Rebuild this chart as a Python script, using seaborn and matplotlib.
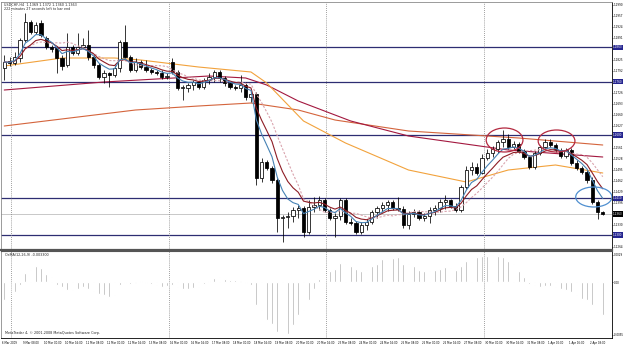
import numpy as np
import pandas as pd
import seaborn as sns
import matplotlib.pyplot as plt
from matplotlib.patches import Ellipse

sns.set_theme(style="white")
plt.rcParams["font.family"] = ["DejaVu Sans"]

symbol = "USDCHF,H4"

# H4 bars, 6 Mar 2009 16:00 .. 2 Apr 2009 16:00
open_ = [1.1801, 1.1822, 1.1816, 1.1831, 1.1885, 1.1939, 1.1909, 1.1936, 1.1891, 1.1864,
         1.1861, 1.1831, 1.1810, 1.1864, 1.1846, 1.1864, 1.1870, 1.1834, 1.1810, 1.1774,
         1.1786, 1.1780, 1.1801, 1.1879, 1.1834, 1.1795, 1.1819, 1.1804, 1.1795, 1.1789,
         1.1786, 1.1774, 1.1819, 1.1789, 1.1741, 1.1741, 1.1750, 1.1759, 1.1744, 1.1765,
         1.1774, 1.1789, 1.1771, 1.1756, 1.1744, 1.1741, 1.1750, 1.1714, 1.1723, 1.1471,
         1.1519, 1.1501, 1.1465, 1.1351, 1.1354, 1.1357, 1.1375, 1.1381, 1.1309, 1.1384,
         1.1390, 1.1405, 1.1375, 1.1351, 1.1357, 1.1405, 1.1339, 1.1336, 1.1309, 1.1330,
         1.1339, 1.1369, 1.1381, 1.1390, 1.1399, 1.1381, 1.1378, 1.1330, 1.1363, 1.1369,
         1.1351, 1.1357, 1.1375, 1.1381, 1.1399, 1.1405, 1.1387, 1.1375, 1.1444, 1.1495,
         1.1504, 1.1486, 1.1531, 1.1546, 1.1558, 1.1579, 1.1588, 1.1564, 1.1573, 1.1552,
         1.1534, 1.1504, 1.1546, 1.1564, 1.1579, 1.1570, 1.1555, 1.1537, 1.1555, 1.1516,
         1.1501, 1.1489, 1.1465, 1.1399, 1.1369]
high = [1.1840, 1.1834, 1.1849, 1.1891, 1.1966, 1.1945, 1.1939, 1.1945, 1.1897, 1.1870,
        1.1867, 1.1840, 1.1906, 1.1870, 1.1906, 1.1891, 1.1915, 1.1840, 1.1816, 1.1795,
        1.1789, 1.1810, 1.1885, 1.1930, 1.1840, 1.1831, 1.1825, 1.1825, 1.1801, 1.1795,
        1.1795, 1.1786, 1.1831, 1.1795, 1.1750, 1.1756, 1.1765, 1.1762, 1.1771, 1.1786,
        1.1795, 1.1795, 1.1777, 1.1759, 1.1750, 1.1780, 1.1759, 1.1732, 1.1729, 1.1531,
        1.1525, 1.1507, 1.1471, 1.1360, 1.1369, 1.1384, 1.1390, 1.1387, 1.1405, 1.1414,
        1.1417, 1.1411, 1.1381, 1.1366, 1.1411, 1.1411, 1.1351, 1.1342, 1.1339, 1.1348,
        1.1375, 1.1387, 1.1399, 1.1405, 1.1405, 1.1414, 1.1387, 1.1372, 1.1378, 1.1375,
        1.1366, 1.1384, 1.1390, 1.1408, 1.1420, 1.1408, 1.1396, 1.1450, 1.1507, 1.1519,
        1.1516, 1.1543, 1.1558, 1.1567, 1.1585, 1.1615, 1.1603, 1.1582, 1.1579, 1.1558,
        1.1540, 1.1552, 1.1570, 1.1588, 1.1588, 1.1576, 1.1561, 1.1561, 1.1561, 1.1525,
        1.1507, 1.1495, 1.1474, 1.1405, 1.1372]
low = [1.1765, 1.1807, 1.1810, 1.1819, 1.1879, 1.1903, 1.1903, 1.1894, 1.1858, 1.1849,
       1.1786, 1.1795, 1.1804, 1.1840, 1.1840, 1.1861, 1.1825, 1.1801, 1.1768, 1.1756,
       1.1744, 1.1774, 1.1789, 1.1831, 1.1789, 1.1789, 1.1798, 1.1789, 1.1783, 1.1780,
       1.1768, 1.1768, 1.1783, 1.1735, 1.1705, 1.1729, 1.1735, 1.1738, 1.1738, 1.1753,
       1.1759, 1.1759, 1.1747, 1.1738, 1.1735, 1.1729, 1.1705, 1.1699, 1.1450, 1.1459,
       1.1495, 1.1456, 1.1309, 1.1279, 1.1321, 1.1339, 1.1351, 1.1294, 1.1303, 1.1369,
       1.1375, 1.1369, 1.1345, 1.1294, 1.1345, 1.1333, 1.1330, 1.1303, 1.1303, 1.1315,
       1.1333, 1.1351, 1.1369, 1.1372, 1.1375, 1.1372, 1.1321, 1.1318, 1.1354, 1.1345,
       1.1342, 1.1336, 1.1360, 1.1369, 1.1378, 1.1381, 1.1369, 1.1369, 1.1438, 1.1480,
       1.1480, 1.1483, 1.1525, 1.1534, 1.1546, 1.1564, 1.1558, 1.1558, 1.1546, 1.1528,
       1.1498, 1.1498, 1.1540, 1.1558, 1.1564, 1.1549, 1.1531, 1.1531, 1.1510, 1.1495,
       1.1483, 1.1456, 1.1393, 1.1348, 1.1360]
close = [1.1819, 1.1816, 1.1834, 1.1885, 1.1939, 1.1909, 1.1930, 1.1900, 1.1864, 1.1858,
         1.1831, 1.1807, 1.1864, 1.1846, 1.1864, 1.1870, 1.1834, 1.1810, 1.1774, 1.1786,
         1.1780, 1.1801, 1.1879, 1.1834, 1.1795, 1.1819, 1.1804, 1.1795, 1.1789, 1.1786,
         1.1774, 1.1777, 1.1789, 1.1741, 1.1744, 1.1750, 1.1759, 1.1744, 1.1765, 1.1774,
         1.1789, 1.1771, 1.1756, 1.1744, 1.1741, 1.1750, 1.1714, 1.1723, 1.1471, 1.1519,
         1.1501, 1.1465, 1.1351, 1.1354, 1.1357, 1.1375, 1.1381, 1.1309, 1.1384, 1.1390,
         1.1405, 1.1375, 1.1351, 1.1357, 1.1405, 1.1339, 1.1336, 1.1309, 1.1330, 1.1339,
         1.1369, 1.1381, 1.1390, 1.1399, 1.1381, 1.1378, 1.1330, 1.1363, 1.1369, 1.1351,
         1.1357, 1.1375, 1.1381, 1.1399, 1.1405, 1.1387, 1.1375, 1.1444, 1.1495, 1.1504,
         1.1486, 1.1531, 1.1546, 1.1558, 1.1579, 1.1588, 1.1564, 1.1573, 1.1552, 1.1534,
         1.1504, 1.1546, 1.1564, 1.1579, 1.1570, 1.1555, 1.1537, 1.1555, 1.1516, 1.1501,
         1.1489, 1.1465, 1.1399, 1.1369, 1.1363]

# OsMA(12,26,9) histogram, one value per bar
osma = [-0.0018, -0.0015, -0.0010, -0.0003, 0.0009, 0.0012, 0.0016, 0.0014, 0.0008, 0.0005,
        -0.0003, -0.0005, -0.0008, -0.0008, -0.0007, -0.0005, -0.0007, -0.0009, -0.0012, -0.0013,
        -0.0015, -0.0013, -0.0003, -0.0001, -0.0002, -0.0001, 0.0001, -0.0001, -0.0002, -0.0003,
        -0.0005, -0.0004, -0.0003, -0.0005, -0.0007, -0.0007, -0.0006, -0.0005, -0.0002, 0.0001,
        0.0004, 0.0005, 0.0003, 0.0002, 0.0002, 0.0001, -0.0001, -0.0003, -0.0023, -0.0028,
        -0.0038, -0.0042, -0.0050, -0.0053, -0.0052, -0.0043, -0.0033, -0.0028, -0.0018, -0.0007,
        0.0003, 0.0008, 0.0011, 0.0013, 0.0019, 0.0018, 0.0016, 0.0013, 0.0011, 0.0012,
        0.0016, 0.0018, 0.0023, 0.0024, 0.0024, 0.0025, 0.0018, 0.0018, 0.0016, 0.0012,
        0.0011, 0.0011, 0.0012, 0.0013, 0.0015, 0.0014, 0.0012, 0.0016, 0.0021, 0.0024,
        0.0025, 0.0026, 0.0026, 0.0027, 0.0026, 0.0025, 0.0021, 0.0018, 0.0011, 0.0005,
        -0.0002, -0.0003, -0.0005, -0.0004, -0.0004, -0.0005, -0.0007, -0.0008, -0.0010, -0.0013,
        -0.0017, -0.0018, -0.0023, -0.0030, -0.0033]

# slow moving averages (bar index, price)
orange_idx = [0, 11, 21, 26, 37, 47, 50, 57, 65, 77, 88, 96, 105, 114]
orange_val = [1.1807, 1.1831, 1.1831, 1.1825, 1.1804, 1.1789, 1.1756, 1.1642, 1.1576,
              1.1495, 1.1459, 1.1495, 1.1510, 1.1486]
crimson_idx = [0, 19, 39, 46, 50, 56, 66, 77, 96, 114]
crimson_val = [1.1735, 1.1759, 1.1777, 1.1771, 1.1750, 1.1702, 1.1642, 1.1597, 1.1555, 1.1534]
sienna_idx = [0, 25, 37, 47, 56, 63, 77, 98, 114]
sienna_val = [1.1627, 1.1675, 1.1687, 1.1696, 1.1675, 1.1645, 1.1612, 1.1591, 1.1570]

levels = [1.1863, 1.1760, 1.1600, 1.1410, 1.1300]
week_starts = [2, 32, 62, 92]
date_labels = ["6 Mar 2009", "9 Mar 08:00", "10 Mar 00:00", "10 Mar 16:00", "11 Mar 08:00",
               "12 Mar 00:00", "12 Mar 16:00", "13 Mar 08:00", "16 Mar 00:00", "16 Mar 16:00",
               "17 Mar 08:00", "18 Mar 00:00", "18 Mar 16:00", "19 Mar 08:00", "20 Mar 00:00",
               "20 Mar 16:00", "23 Mar 08:00", "24 Mar 00:00", "24 Mar 16:00", "25 Mar 08:00",
               "26 Mar 00:00", "26 Mar 16:00", "27 Mar 08:00", "30 Mar 00:00", "30 Mar 16:00",
               "31 Mar 08:00", "1 Apr 00:00", "1 Apr 16:00", "2 Apr 08:00"]
# hand drawn ellipses: centre bar, centre price, width (bars), height (price), colour
marks = [(95.3, 1.1585, 7.0, 0.0072, "#b3283f"),
         (105.2, 1.1582, 7.0, 0.0066, "#b3283f"),
         (112.3, 1.1414, 6.9, 0.0060, "#4f8fd0")]

FS = 2.4
AX_FS = 2.0
o, h, l, c = (np.array(v) for v in (open_, high, low, close))
x = np.arange(len(c))
s = pd.Series(c)
ema5 = s.ewm(span=5, adjust=False).mean()
ema8 = s.ewm(span=8, adjust=False).mean()
sma10 = s.rolling(10, min_periods=1).mean()

fig = plt.figure(figsize=(6.25, 3.45), dpi=100)
fig.patch.set_facecolor("white")
ax = fig.add_axes([1/625, 1-249.5/345, 611/625, 248/345])
ax2 = fig.add_axes([1/625, 1-338/345, 611/625, 87/345])
xlim = ((1-4.25)/5.25, (612-4.25)/5.25)

# main window
for lv in levels:
    ax.axhline(lv, color="#2d2d72", lw=0.9, zorder=1)
ax.axhline(c[-1], color="#c8c8c8", lw=0.7, zorder=1)
for w in week_starts:
    ax.axvline(w-0.7, color="#808080", lw=0.6, ls=(0, (1, 1.5)), zorder=1)
    ax2.axvline(w-0.7, color="#808080", lw=0.6, ls=(0, (1, 1.5)), zorder=1)

sns.lineplot(x=sienna_idx, y=sienna_val, ax=ax, color="#d4643c", lw=0.8, zorder=2, legend=False)
sns.lineplot(x=crimson_idx, y=crimson_val, ax=ax, color="#a3183f", lw=0.8, zorder=2, legend=False)
sns.lineplot(x=orange_idx, y=orange_val, ax=ax, color="#f2a23c", lw=0.8, zorder=2, legend=False)

ax.vlines(x, l, h, color="black", lw=0.55, zorder=3)
up = c >= o
ax.bar(x, np.maximum(np.abs(c-o), 0.00004), bottom=np.minimum(o, c), width=0.62,
       color=np.where(up, "white", "black"), edgecolor="black", linewidth=0.55, zorder=4)

sns.lineplot(x=x, y=sma10, ax=ax, color="#d9a3ad", lw=0.8, ls=(0, (2, 1.5)), zorder=5, legend=False)
sns.lineplot(x=x, y=ema8, ax=ax, color="#8e1d25", lw=0.8, zorder=5, legend=False)
sns.lineplot(x=x, y=ema5, ax=ax, color="#4682b4", lw=0.8, zorder=6, legend=False)

for cx, cy, ww, hh, col in marks:
    ax.add_patch(Ellipse((cx, cy), ww, hh, fill=False, ec=col, lw=0.9, zorder=7))

ax.set_xlim(*xlim)
ax.set_ylim(1.2005-0.0003*249.5, 1.2005-0.0003*1.5)
ax.set_xticks([])
ax.yaxis.tick_right()
# price scale; labels hidden where a line label box sits on top
boxed = levels + [c[-1]]
yt = np.round(1.1990 - 0.0033*np.arange(23), 4)
yt = [v for v in yt if min(abs(v - b) for b in boxed) > 0.0013]
ax.set_yticks(yt)
ax.set_yticklabels([f"{v:.4f}" for v in yt])
ax.tick_params(axis="y", labelsize=AX_FS, length=1.0, width=0.4, pad=0.3, colors="black")
ax.set_xlabel("")
ax.set_ylabel("")
for lv in levels:
    ax.text(1.002, lv, f"{lv:.4f}", transform=ax.get_yaxis_transform(), ha="left", va="center",
            fontsize=AX_FS, color="white", clip_on=False, zorder=10,
            bbox=dict(boxstyle="square,pad=0.2", fc="#25258f", ec="none"))
ax.text(1.002, c[-1], f"{c[-1]:.4f}", transform=ax.get_yaxis_transform(), ha="left", va="center",
        fontsize=AX_FS, color="white", clip_on=False, zorder=10,
        bbox=dict(boxstyle="square,pad=0.2", fc="black", ec="none"))

for side in ("left", "top"):
    ax.spines[side].set_color("#8a8a8a")
    ax.spines[side].set_linewidth(0.6)
ax.spines["right"].set_color("black")
ax.spines["right"].set_linewidth(0.6)
ax.spines["bottom"].set_color("#555555")
ax.spines["bottom"].set_linewidth(1.6)

fig.text(4/625, 1-4.5/345, f"{symbol}  {o[-1]:.4f} {h[-1]:.4f} {l[-1]:.4f} {c[-1]:.4f}",
         fontsize=FS, va="center", ha="left")
fig.text(4/625, 1-9.5/345, "222 minutes 27 seconds left to bar end", fontsize=FS, va="center", ha="left")

# OsMA window
ax2.bar(x, osma, width=0.36, color="#a9a9a9", zorder=3)
ax2.set_xlim(*xlim)
ax2.set_ylim(-0.0056, 0.0031)
ax2.yaxis.tick_right()
ax2.set_yticks([0.0027, 0.0, -0.0053])
ax2.set_yticklabels(["0.0029", "0.00", "-0.0055"])
ax2.tick_params(axis="y", labelsize=AX_FS, length=1.0, width=0.4, pad=0.3, colors="black")
lab_pos = np.arange(0, len(c), 4)
ax2.set_xticks(lab_pos - 0.5)
ax2.set_xticklabels(date_labels, ha="left")
ax2.tick_params(axis="x", labelsize=1.9, length=1.5, width=0.4, pad=0.5, direction="out", colors="black")
ax2.set_ylabel("")
ax2.spines["left"].set_color("#8a8a8a")
ax2.spines["left"].set_linewidth(0.6)
ax2.spines["top"].set_color("#555555")
ax2.spines["top"].set_linewidth(0.8)
ax2.spines["right"].set_color("black")
ax2.spines["right"].set_linewidth(0.6)
ax2.spines["bottom"].set_color("black")
ax2.spines["bottom"].set_linewidth(0.6)
ax2.text(0.006, 0.955, f"OsMA(12,26,9) {osma[-1]:.6f}", transform=ax2.transAxes,
         fontsize=FS, va="center", ha="left")
ax2.text(0.006, 0.06, "MetaTrader 4, \u00a9 2001-2008 MetaQuotes Software Corp.", transform=ax2.transAxes,
         fontsize=FS, va="center", ha="left")

fig.savefig("out.png", dpi=100, facecolor="white")
